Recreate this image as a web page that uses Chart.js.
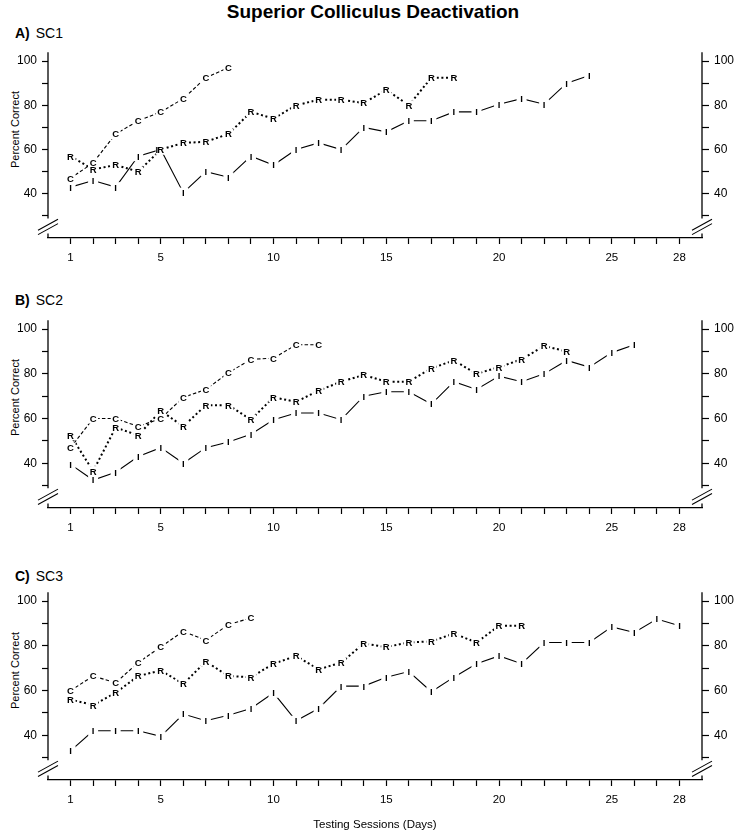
<!DOCTYPE html>
<html><head><meta charset="utf-8">
<script src="https://cdn.jsdelivr.net/npm/chart.js@4.4.1/dist/chart.umd.min.js"></script>
<style>
html,body{margin:0;padding:0;background:#fff;}
#wrap{position:relative;width:740px;height:834px;overflow:hidden;font-family:"Liberation Sans",Arial,Helvetica,sans-serif;color:#000;}
canvas{position:absolute;left:0;}
.t{position:absolute;white-space:nowrap;}
.pl{font-size:14px;line-height:14px;left:15px;}
.pl b{margin-right:6px;}
.yt{font-size:11px;line-height:11px;width:120px;text-align:center;left:-45px;transform:rotate(-90deg);transform-origin:50% 50%;}
</style></head><body>
<div id="wrap">
  <div class="t" style="left:0;width:746px;top:2px;text-align:center;font-weight:bold;font-size:19px;line-height:19px;">Superior Colliculus Deactivation</div>
  <div class="t pl" style="top:26px;"><b>A)</b>SC1</div>
  <div class="t pl" style="top:293px;"><b>B)</b>SC2</div>
  <div class="t pl" style="top:569px;"><b>C)</b>SC3</div>
  <div class="t yt" style="top:123.5px;">Percent Correct</div>
  <div class="t yt" style="top:391.5px;">Percent Correct</div>
  <div class="t yt" style="top:664.5px;">Percent Correct</div>
  <canvas id="cA" width="740" height="230" style="top:40px"></canvas>
  <canvas id="cB" width="740" height="232" style="top:308px"></canvas>
  <canvas id="cC" width="740" height="254" style="top:580px"></canvas>
</div>
<script>
// ---- data (percent correct per testing session, sessions start at 1) ----
const X_LABELS = [1, 5, 10, 15, 20, 25, 28];
const Y_LABELS = [40, 60, 80, 100];
const Y_TICKS = [30, 40, 50, 60, 70, 80, 90, 100];

const SC1_C = [47, 54, 67, 73, 77, 83, 92.5, 97];
const SC1_R = [57, 51, 53, 50, 60, 63, 63.5, 67, 77, 74, 80, 82.5, 82.5, 81, 87, 80, 92.5, 92.5];
const SC1_I = [43, 46, 43, 57, 60, 40.5, 50, 47.5, 57, 53, 60, 63, 60, 70, 68, 73, 73, 77, 77, 80.5, 83, 80.5, 90, 93.5];

const SC2_C = [47, 60, 60, 56.5, 60, 69.5, 73, 80.5, 86.5, 87, 93, 93];
const SC2_R = [52.5, 36.5, 56, 52.5, 63.5, 56.5, 66, 66, 59.5, 69.5, 67.5, 72.5, 76.5, 79.5, 76.5, 76.5, 82.5, 86, 80, 83, 86.5, 92.5, 90];
const SC2_I = [39.5, 32.5, 36, 43, 47, 40, 47, 49.5, 53, 59.5, 62.5, 62.5, 59.5, 70, 72, 72, 66.5, 76.5, 73, 79, 76.5, 80, 86, 83, 89.5, 93];

const SC3_C = [60, 66.5, 63.5, 72.5, 79.5, 86.5, 82.5, 89.5, 92.5];
const SC3_R = [56, 53.5, 59, 66.5, 69, 63, 73, 66.5, 66, 72, 75.5, 69.5, 72.5, 81, 79.5, 81.5, 82, 85.5, 81.5, 89, 89];
const SC3_I = [33, 42, 42, 42, 39.5, 49.5, 46.5, 49, 52, 59, 46.5, 52, 62, 62, 66, 68.5, 59.5, 66, 72, 75.5, 72, 81.5, 81.5, 81.5, 88.5, 86, 92, 89];

// ---- helpers ----
const FONT = '"Liberation Sans", Arial, Helvetica, sans-serif';
Chart.defaults.font.family = FONT;
Chart.defaults.color = '#000';
const LETTER_FONT = 'bold 9.5px ' + FONT;

function letterImage(ch, shift) {
  const w = 10 + Math.abs(shift) * 2;
  const c = document.createElement('canvas');
  c.width = w; c.height = 10;
  const g = c.getContext('2d');
  g.fillStyle = '#000';
  g.font = LETTER_FONT;
  g.textAlign = 'center';
  g.textBaseline = 'alphabetic';
  g.fillText(ch, w / 2 + shift, 8.4);
  c.letterShift = shift;
  c.letter = ch;
  return c;
}
const IMG = { C: letterImage('C', 0), R: letterImage('R', 0), I: letterImage('I', 0), Ileft: letterImage('I', -4) };

const toPts = vals => vals.map((v, i) => ({ x: i + 1, y: v }));

// mask the lines around each letter marker, then write the letters crisply on top
const letterMask = {
  id: 'letterMask',
  afterDatasetsDraw(chart) {
    const ctx = chart.ctx;
    ctx.save();
    ctx.fillStyle = '#fff';
    chart.data.datasets.forEach((d, i) => {
      chart.getDatasetMeta(i).data.forEach(p => ctx.fillRect(p.x - 5, p.y - 5, 10, 10));
    });
    ctx.fillStyle = '#000';
    ctx.font = LETTER_FONT;
    ctx.textAlign = 'center';
    ctx.textBaseline = 'alphabetic';
    chart.data.datasets.forEach((d, i) => {
      chart.getDatasetMeta(i).data.forEach(p => {
        const st = p.options.pointStyle;
        const shift = (st && st.letterShift) || 0;
        ctx.fillText(d.label, p.x + shift, p.y + 3.4);
      });
    });
    ctx.restore();
  }
};

// vertical axis lines with scale breaks
const axisBreaks = {
  id: 'axisBreaks',
  afterDraw(chart) {
    const { ctx, chartArea: { left, right, top, bottom }, scales: { y } } = chart;
    const p30 = y.getPixelForValue(30);
    const cy = (p30 + bottom) / 2;
    ctx.save();
    ctx.strokeStyle = '#000';
    [left, right].forEach(x => {
      ctx.lineWidth = 1.3;
      ctx.beginPath(); ctx.moveTo(x, top); ctx.lineTo(x, p30 + 2.5); ctx.stroke();
      ctx.beginPath(); ctx.moveTo(x, bottom - 4.5); ctx.lineTo(x, bottom); ctx.stroke();
      ctx.lineWidth = 1.1;
      for (const d of [-2.2, 2.2]) {
        ctx.beginPath(); ctx.moveTo(x - 10, cy + 5.5 + d); ctx.lineTo(x + 10, cy - 5.5 + d); ctx.stroke();
      }
    });
    ctx.restore();
  }
};

function makePanel(id, cVals, rVals, iVals, xHeight, xTitle) {
  const iStyle = ctx => {
    const k = ctx.dataIndex;
    return (rVals[k] !== undefined && Math.abs(rVals[k] - iVals[k]) < 2) ? IMG.Ileft : IMG.I;
  };
  const yCommon = (pos, width, tickLen) => ({
    type: 'linear', position: pos, min: 20, max: 104,
    afterBuildTicks: s => { s.ticks = Y_TICKS.map(v => ({ value: v })); },
    afterFit: s => { s.width = width; },
    ticks: { padding: 5, color: '#000', font: { size: 12 }, callback: v => Y_LABELS.includes(v) ? String(v) : '' },
    grid: { drawOnChartArea: false, drawTicks: true, tickLength: tickLen, tickWidth: 1.2, color: '#000' },
    border: { display: false }
  });
  new Chart(document.getElementById(id), {
    type: 'line',
    data: {
      datasets: [
        { label: 'C', data: toPts(cVals), borderColor: '#000', borderWidth: 1.1, borderDash: [3.5, 2.2],
          pointStyle: IMG.C, pointRadius: 5, tension: 0, fill: false },
        { label: 'R', data: toPts(rVals), borderColor: '#000', borderWidth: 2, borderDash: [2, 2.6],
          pointStyle: IMG.R, pointRadius: 5, tension: 0, fill: false },
        { label: 'I', data: toPts(iVals), borderColor: '#000', borderWidth: 1.1,
          pointStyle: iStyle, pointRadius: 5, tension: 0, fill: false }
      ]
    },
    options: {
      responsive: false, animation: false, events: [], devicePixelRatio: 1,
      layout: { padding: { top: 11, left: 0, right: 0, bottom: 0 } },
      plugins: { legend: { display: false }, tooltip: { enabled: false } },
      scales: {
        x: {
          type: 'linear', min: 0, max: 29,
          afterBuildTicks: s => { const t = []; for (let v = 1; v <= 28; v++) t.push({ value: v }); s.ticks = t; },
          afterFit: s => { s.height = xHeight; },
          ticks: { autoSkip: false, maxRotation: 0, padding: 7, color: '#000', font: { size: 11.5 },
                   callback: v => X_LABELS.includes(v) ? String(v) : '' },
          grid: { drawOnChartArea: false, drawTicks: true, tickLength: 6, tickWidth: 1.2, color: '#000' },
          border: { display: true, color: '#000', width: 1.3 },
          title: { display: !!xTitle, text: xTitle || '', color: '#000', font: { size: 11.5 }, padding: { top: 4, bottom: 2 } }
        },
        y: yCommon('left', 48, 6),
        y2: yCommon('right', 38, 7)
      }
    },
    plugins: [letterMask, axisBreaks]
  });
}

makePanel('cA', SC1_C, SC1_R, SC1_I, 32);
makePanel('cB', SC2_C, SC2_R, SC2_I, 32);
makePanel('cC', SC3_C, SC3_R, SC3_I, 54, 'Testing Sessions (Days)');
</script>
</body></html>
